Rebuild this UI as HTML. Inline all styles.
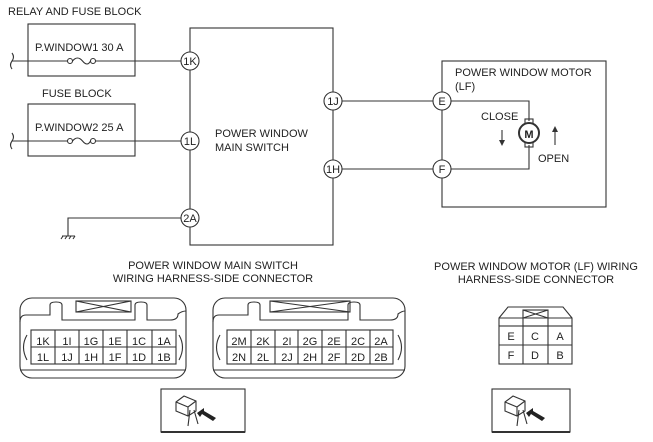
<!DOCTYPE html>
<html><head><meta charset="utf-8"><style>
html,body{margin:0;padding:0;background:#fff;}
svg{display:block;font-family:"Liberation Sans",sans-serif;}
text{fill:#222;font-size:11px;}
.l{stroke:#333;stroke-width:1.1;fill:none;}
.c{stroke:#333;stroke-width:1.1;fill:#fff;}
</style></head><body>
<svg width="653" height="442" viewBox="0 0 653 442">
<!-- fuse boxes -->
<text x="8" y="15">RELAY AND FUSE BLOCK</text>
<rect class="l" x="28" y="24" width="107" height="52"/>
<text x="35" y="51">P.WINDOW1 30 A</text>
<text x="42" y="97">FUSE BLOCK</text>
<rect class="l" x="28" y="104" width="107" height="52"/>
<text x="35" y="131">P.WINDOW2 25 A</text>
<path class="l" d="M12,53 q3,4 0,8 q-3,4 0,8"/>
<path class="l" d="M12,133 q3,4 0,8 q-3,4 0,8"/>
<path class="l" d="M12,61 H67 M96,61 H181 M12,141 H67 M96,141 H181"/>
<circle class="l" cx="70" cy="61" r="2.5"/><circle class="l" cx="93" cy="61" r="2.5"/>
<path class="l" d="M72.5,61 q5,-6 10,0 q5,6 8,0"/>
<circle class="l" cx="70" cy="141" r="2.5"/><circle class="l" cx="93" cy="141" r="2.5"/>
<path class="l" d="M72.5,141 q5,-6 10,0 q5,6 8,0"/>
<!-- main switch -->
<rect class="l" x="190" y="28" width="143" height="217"/>
<text x="215" y="137">POWER WINDOW</text>
<text x="215" y="151">MAIN SWITCH</text>
<path class="l" d="M181,218 H68 V236 M62,236 H75 M63,236 l-2,3 M67,236 l-2,3 M71,236 l-2,3 M75,236 l-2,3"/>
<path class="l" d="M342,101 H433 M342,169 H433"/>
<g>
<circle class="c" cx="190" cy="61" r="9"/><text x="190" y="65" text-anchor="middle" font-size="10">1K</text>
<circle class="c" cx="190" cy="141" r="9"/><text x="190" y="145" text-anchor="middle" font-size="10">1L</text>
<circle class="c" cx="190" cy="218" r="9"/><text x="190" y="222" text-anchor="middle" font-size="10">2A</text>
<circle class="c" cx="333" cy="101" r="9"/><text x="333" y="105" text-anchor="middle" font-size="10">1J</text>
<circle class="c" cx="333" cy="169" r="9"/><text x="333" y="173" text-anchor="middle" font-size="10">1H</text>
</g>
<!-- motor -->
<rect class="l" x="442" y="61" width="164" height="146"/>
<text x="455" y="76">POWER WINDOW MOTOR</text>
<text x="455" y="90">(LF)</text>
<path class="l" d="M451,101 H529 V121 M529,145 V169 H451"/>
<rect class="l" x="525" y="119" width="8" height="28"/>
<circle cx="529" cy="133" r="10" fill="#fff" stroke="#333" stroke-width="2"/>
<text x="529" y="138" text-anchor="middle" font-size="12" font-weight="bold">M</text>
<text x="481" y="120">CLOSE</text>
<path class="l" d="M502,130 V144"/><path d="M499,140 L502,146 L505,140Z" fill="#333"/>
<path class="l" d="M555,129 V145"/><path d="M552,132 L555,126 L558,132Z" fill="#333"/>
<text x="538" y="162">OPEN</text>
<circle class="c" cx="442" cy="101" r="9"/><text x="442" y="105" text-anchor="middle" font-size="10">E</text>
<circle class="c" cx="442" cy="169" r="9"/><text x="442" y="173" text-anchor="middle" font-size="10">F</text>
<!-- titles -->
<text x="213" y="269" text-anchor="middle">POWER WINDOW MAIN SWITCH</text>
<text x="213" y="282" text-anchor="middle">WIRING HARNESS-SIDE CONNECTOR</text>
<text x="536" y="270" text-anchor="middle">POWER WINDOW MOTOR (LF) WIRING</text>
<text x="536" y="283" text-anchor="middle">HARNESS-SIDE CONNECTOR</text>
<!-- connector 1 -->
<rect class="l" x="20" y="298" width="166" height="80" rx="12"/>
<path class="l" d="M20,322 q0,-7 6,-7 H50 V305 q0,-3 6,-3 q6,0 6,3 V320 H135 V305 q0,-3 6,-3 q6,0 6,3 V320 H170 q8,0 8,-6 q4,-3 8,-3"/>
<rect class="l" x="76" y="301" width="55" height="11"/><path class="l" d="M76,301 L131,312 M131,301 L76,312"/>
<path class="l" d="M20,370 H186 M27,335 q-7,12 0,25 M179,335 q7,12 0,25"/>
<rect class="l" x="31" y="330" width="145" height="34"/>
<g font-size="10">
<text x="43" y="345" text-anchor="middle">1K</text><text x="67" y="345" text-anchor="middle">1I</text><text x="91" y="345" text-anchor="middle">1G</text><text x="115" y="345" text-anchor="middle">1E</text><text x="139" y="345" text-anchor="middle">1C</text><text x="164" y="345" text-anchor="middle">1A</text>
<text x="43" y="361" text-anchor="middle">1L</text><text x="67" y="361" text-anchor="middle">1J</text><text x="91" y="361" text-anchor="middle">1H</text><text x="115" y="361" text-anchor="middle">1F</text><text x="139" y="361" text-anchor="middle">1D</text><text x="164" y="361" text-anchor="middle">1B</text>
</g>
<path class="l" d="M31,347 H176 M55,330 V364 M79,330 V364 M103,330 V364 M127,330 V364 M152,330 V364"/>
<!-- connector 2 -->
<rect class="l" x="213" y="298" width="192" height="80" rx="12"/>
<path class="l" d="M213,322 q0,-7 6,-7 H248 V305 q0,-3 6,-3 q6,0 6,3 V320 H348 V305 q0,-3 6,-3 q6,0 6,3 V320 H390 q8,0 8,-6 q4,-3 7,-3"/>
<rect class="l" x="270" y="301" width="80" height="11"/><path class="l" d="M270,301 L350,312 M350,301 L270,312"/>
<path class="l" d="M213,370 H405 M220,335 q-7,12 0,25 M398,335 q7,12 0,25"/>
<rect class="l" x="227" y="330" width="166" height="34"/>
<path class="l" d="M227,347 H393 M251,330 V364 M275,330 V364 M298,330 V364 M322,330 V364 M346,330 V364 M370,330 V364"/>
<g font-size="10">
<text x="239" y="345" text-anchor="middle">2M</text><text x="263" y="345" text-anchor="middle">2K</text><text x="287" y="345" text-anchor="middle">2I</text><text x="310" y="345" text-anchor="middle">2G</text><text x="334" y="345" text-anchor="middle">2E</text><text x="358" y="345" text-anchor="middle">2C</text><text x="381" y="345" text-anchor="middle">2A</text>
<text x="239" y="361" text-anchor="middle">2N</text><text x="263" y="361" text-anchor="middle">2L</text><text x="287" y="361" text-anchor="middle">2J</text><text x="310" y="361" text-anchor="middle">2H</text><text x="334" y="361" text-anchor="middle">2F</text><text x="358" y="361" text-anchor="middle">2D</text><text x="381" y="361" text-anchor="middle">2B</text>
</g>
<!-- motor connector -->
<path class="l" d="M499,326 V318 L508,307 H563 L572,318 V326"/>
<path class="l" d="M499,318 H572"/>
<rect class="l" x="523" y="310" width="25" height="16"/><path class="l" d="M523,310 L548,318 M548,310 L523,318"/>
<rect class="l" x="499" y="326" width="73" height="38"/>
<path class="l" d="M499,345 H572 M523,326 V364 M548,326 V364"/>
<g font-size="10">
<text x="511" y="340" text-anchor="middle">E</text><text x="535" y="340" text-anchor="middle">C</text><text x="560" y="340" text-anchor="middle">A</text>
<text x="511" y="359" text-anchor="middle">F</text><text x="535" y="359" text-anchor="middle">D</text><text x="560" y="359" text-anchor="middle">B</text>
</g>
<!-- icon boxes -->
<g id="ic">
<rect class="l" x="161" y="389" width="84" height="43"/>
<path d="M161,432 H245" stroke="#333" stroke-width="2"/>
<path class="l" d="M176,402 l8,-6 l12,5 v10 l-8,5 l-12,-5z M176,402 l12,5 l8,-6 M188,407 v9 M190,410 l-2,16 M194,410 l4,14"/>
<path d="M197,413 l7,-5 v3 l12,7 l-3,3 l-11,-7 l-2,3z" fill="#222"/>
</g>
<g transform="translate(331,0)">
<rect class="l" x="161" y="389" width="78" height="43"/>
<path d="M161,432 H239" stroke="#333" stroke-width="2"/>
<path class="l" d="M174,402 l8,-6 l12,5 v10 l-8,5 l-12,-5z M174,402 l12,5 l8,-6 M186,407 v9 M188,410 l-2,16 M192,410 l4,14"/>
<path d="M195,413 l7,-5 v3 l12,7 l-3,3 l-11,-7 l-2,3z" fill="#222"/>
</g>
</svg>
</body></html>
